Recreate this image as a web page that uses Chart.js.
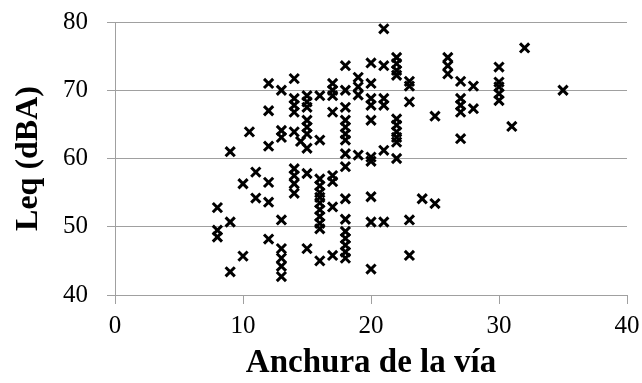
<!DOCTYPE html>
<html>
<head>
<meta charset="utf-8">
<script src="https://cdn.jsdelivr.net/npm/chart.js@4"></script>
<style>
  html, body { margin: 0; padding: 0; background: #fff; }
  canvas { display: block; }
</style>
</head>
<body>
<canvas id="leqChart" width="642" height="383"></canvas>
<script>
const anchura = [
  8, 8, 8,
  9, 9, 9,
  10, 10, 10.5,
  11, 11,
  12, 12, 12, 12, 12, 12,
  13, 13, 13, 13, 13, 13, 13, 13,
  14, 14, 14, 14, 14, 14, 14, 14, 14, 14.5,
  15, 15, 15, 15, 15, 15, 15, 15, 15,
  16, 16, 16, 16, 16, 16, 16, 16, 16, 16, 16, 16,
  17, 17, 17, 17, 17, 17, 17, 17,
  18, 18, 18, 18, 18, 18, 18, 18, 18, 18, 18, 18, 18, 18, 18, 18,
  19, 19, 19, 19,
  20, 20, 20, 20, 20, 20, 20, 20, 20, 20,
  21, 21, 21, 21, 21, 21,
  22, 22, 22, 22, 22, 22, 22, 22, 22, 22,
  23, 23, 23, 23, 23,
  24, 25, 25,
  26, 26, 26,
  27, 27, 27, 27, 27,
  28, 28,
  30, 30, 30, 30, 30,
  31, 32, 35
];
const leq = [
  52.8, 49.5, 48.5,
  61.0, 50.7, 43.4,
  56.3, 45.7, 63.9,
  58.0, 54.2,
  71.0, 67.0, 61.8, 56.5, 53.6, 48.2,
  70.0, 64.1, 63.1, 51.0, 46.8, 45.4, 44.2, 42.7,
  71.7, 68.8, 67.8, 66.8, 63.9, 58.5, 57.5, 56.3, 54.9, 62.5,
  69.2, 68.3, 67.5, 65.6, 64.6, 63.6, 61.5, 57.8, 46.8,
  69.2, 62.7, 57.0, 56.0, 55.0, 54.3, 53.5, 52.5, 51.5, 50.5, 49.7, 45.0,
  71.0, 70.0, 69.2, 66.8, 57.5, 56.6, 52.9, 45.8,
  73.6, 70.0, 67.5, 65.6, 64.6, 63.6, 62.7, 60.7, 58.8, 54.1, 51.1, 49.3, 48.3, 47.3, 46.3, 45.4,
  71.9, 70.5, 69.3, 60.5,
  74.0, 71.0, 68.8, 67.8, 65.6, 60.2, 59.6, 54.4, 50.7, 43.8,
  79.0, 73.6, 68.8, 67.8, 61.2, 50.7,
  74.8, 73.9, 72.9, 72.2, 65.8, 64.9, 63.9, 63.1, 62.4, 60.0,
  71.3, 70.6, 68.3, 51.0, 45.8,
  54.1, 66.2, 53.4,
  74.8, 73.6, 72.4,
  71.3, 68.8, 67.8, 66.8, 62.9,
  70.6, 67.3,
  73.4, 71.2, 70.5, 69.5, 68.5,
  64.7, 76.2, 70.0
];

const xTicks = [0, 10, 20, 30, 40];
const yTicks = [40, 50, 60, 70, 80];

const axisGrey = "#a0a0a0";
const serif = "'Liberation Serif', 'Times New Roman', serif";

const points = anchura.map((w, i) => ({ x: w, y: leq[i] }));

const ctx = document.getElementById("leqChart").getContext("2d");

new Chart(ctx, {
  type: "scatter",
  data: {
    datasets: [
      {
        data: points,
        pointStyle: "crossRot",
        pointRadius: 6.5,
        pointBorderWidth: 3,
        pointBorderColor: "#000",
        pointBackgroundColor: "#000"
      }
    ]
  },
  options: {
    responsive: false,
    animation: false,
    layout: { autoPadding: false, padding: 0 },
    plugins: {
      legend: { display: false },
      tooltip: { enabled: false }
    },
    scales: {
      x: {
        type: "linear",
        min: xTicks[0],
        max: xTicks[xTicks.length - 1],
        afterBuildTicks: (scale) => { scale.ticks = xTicks.map(v => ({ value: v })); },
        afterFit: (scale) => {
          scale.height = 88;
          // the label padding would otherwise eat into the right margin
          scale.paddingLeft = 0;
          scale.paddingRight = 15;
        },
        border: { color: axisGrey, width: 1 },
        grid: {
          drawOnChartArea: false,
          drawTicks: true,
          tickLength: 9,
          tickColor: axisGrey
        },
        ticks: {
          color: "#000",
          padding: 7,
          font: { family: serif, size: 25 }
        },
        title: {
          display: true,
          text: "Anchura de la vía",
          color: "#000",
          padding: { top: 0, bottom: 0 },
          font: { family: serif, size: 33, weight: "bold" }
        }
      },
      y: {
        type: "linear",
        min: yTicks[0],
        max: yTicks[yTicks.length - 1],
        afterBuildTicks: (scale) => { scale.ticks = yTicks.map(v => ({ value: v })); },
        afterFit: (scale) => {
          scale.width = 115;
          scale.paddingTop = 22;
          scale.paddingBottom = 0;
        },
        border: { color: axisGrey, width: 1 },
        grid: {
          color: axisGrey,
          drawTicks: true,
          tickLength: 8,
          tickColor: axisGrey
        },
        ticks: {
          color: "#000",
          padding: 19,
          font: { family: serif, size: 25 }
        },
        title: {
          display: true,
          text: "Leq (dBA)",
          color: "#000",
          padding: { top: 10, bottom: 0 },
          font: { family: serif, size: 32, weight: "bold" }
        }
      }
    }
  }
});
</script>
</body>
</html>
